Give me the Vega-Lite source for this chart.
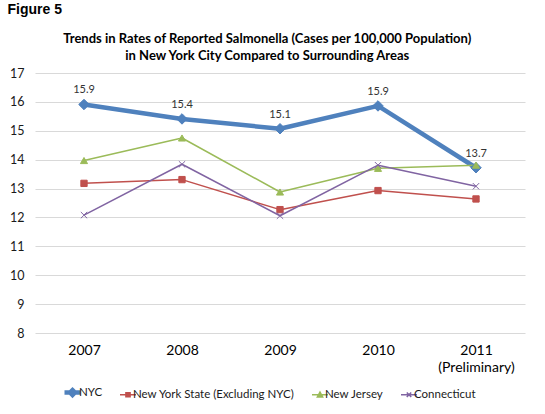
{
  "$schema": "https://vega.github.io/schema/vega-lite/v6.json",
  "background": "white",
  "padding": {"left": 7, "top": 3, "right": 8, "bottom": 6},
  "title": {"text": "Figure 5", "anchor": "start", "frame": "bounds", "font": "Liberation Sans", "fontSize": 14, "fontWeight": "bold", "color": "black", "dx": -2, "offset": 16},
  "data": {"values": [
    {"year": "2007", "area": "NYC", "rate": 15.91},
    {"year": "2008", "area": "NYC", "rate": 15.41},
    {"year": "2009", "area": "NYC", "rate": 15.07},
    {"year": "2010", "area": "NYC", "rate": 15.86},
    {"year": "2011 (Preliminary)", "area": "NYC", "rate": 13.72},
    {"year": "2007", "area": "New York State (Excluding NYC)", "rate": 13.18},
    {"year": "2008", "area": "New York State (Excluding NYC)", "rate": 13.31},
    {"year": "2009", "area": "New York State (Excluding NYC)", "rate": 12.27},
    {"year": "2010", "area": "New York State (Excluding NYC)", "rate": 12.93},
    {"year": "2011 (Preliminary)", "area": "New York State (Excluding NYC)", "rate": 12.64},
    {"year": "2007", "area": "New Jersey", "rate": 13.97},
    {"year": "2008", "area": "New Jersey", "rate": 14.75},
    {"year": "2009", "area": "New Jersey", "rate": 12.88},
    {"year": "2010", "area": "New Jersey", "rate": 13.70},
    {"year": "2011 (Preliminary)", "area": "New Jersey", "rate": 13.81},
    {"year": "2007", "area": "Connecticut", "rate": 12.08},
    {"year": "2008", "area": "Connecticut", "rate": 13.84},
    {"year": "2009", "area": "Connecticut", "rate": 12.06},
    {"year": "2010", "area": "Connecticut", "rate": 13.81},
    {"year": "2011 (Preliminary)", "area": "Connecticut", "rate": 13.08}
  ]},
  "vconcat": [
    {
      "width": 490,
      "height": 260,
      "title": {
        "text": ["Trends in Rates of Reported Salmonella (Cases per 100,000 Population)", "in New York City Compared to Surrounding Areas"],
        "anchor": "middle", "frame": "bounds", "font": "Lato", "fontSize": 13, "fontWeight": "bold", "color": "black", "lineHeight": 17, "offset": 4
      },
      "encoding": {
        "x": {"field": "year", "type": "ordinal", "sort": null,
          "scale": {"type": "point", "padding": 0.5},
          "axis": {"title": null, "labelAngle": 0, "domain": false, "ticks": false, "grid": false, "labelFont": "Lato", "labelFontSize": 14, "labelColor": "black", "labelPadding": 10, "labelExpr": "split(datum.value, ' ')", "labelLineHeight": 17}},
        "y": {"field": "rate", "type": "quantitative",
          "scale": {"domain": [8, 17], "nice": false, "zero": false},
          "axis": {"title": null, "values": [8, 9, 10, 11, 12, 13, 14, 15, 16, 17], "domain": false, "ticks": false, "grid": true, "gridColor": "#d9d9d9", "gridWidth": 1, "labelFont": "Lato", "labelFontSize": 12.5, "labelColor": "#1a1a1a", "labelPadding": 11}}
      },
      "layer": [
        {
          "mark": {"type": "line", "strokeJoin": "round"},
          "encoding": {
            "color": {"field": "area", "type": "nominal",
              "scale": {"domain": ["NYC", "New York State (Excluding NYC)", "New Jersey", "Connecticut"], "range": ["#4f81bd", "#c0504d", "#9bbb59", "#8064a2"]},
              "legend": {
                "orient": "none", "legendX": 27, "legendY": 309, "direction": "horizontal", "title": null,
                "symbolSize": 256, "labelFont": "Lato", "labelFontSize": 11.5, "labelColor": "#1a1a1a", "labelOffset": -4, "columnPadding": 14, "labelLimit": 0,
                "encode": {"symbols": {"update": {
                  "shape": {"signal": "datum.value === 'NYC' ? 'M-1,0H1M0,-0.3L0.3,0L0,0.3L-0.3,0Z' : datum.value === 'New Jersey' ? 'M-1,0H1M0,-0.33L0.33,0.27H-0.33Z' : datum.value === 'Connecticut' ? 'M-1,0H1M-0.28,-0.28L0.28,0.28M-0.28,0.28L0.28,-0.28' : 'M-1,0H1M-0.26,-0.26H0.26V0.26H-0.26Z'"},
                  "strokeWidth": {"signal": "datum.value === 'NYC' ? 3.5 : 1.5"},
                  "fill": {"scale": "color", "field": "value"},
                  "stroke": {"scale": "color", "field": "value"},
                  "opacity": {"value": 1},
                  "fillOpacity": {"value": 1},
                  "strokeOpacity": {"value": 1}
                }}}
              }},
            "strokeWidth": {"field": "area", "type": "nominal",
              "scale": {"type": "ordinal", "domain": ["NYC", "New York State (Excluding NYC)", "New Jersey", "Connecticut"], "range": [4.5, 1.5, 1.5, 1.5]},
              "legend": null}
          }
        },
        {
          "transform": [{"filter": "datum.area === 'NYC'"}],
          "mark": {"type": "point", "shape": "diamond", "filled": true, "color": "#4f81bd", "stroke": "#4f81bd", "strokeWidth": 1, "opacity": 1, "size": 110}
        },
        {
          "transform": [{"filter": "datum.area === 'New York State (Excluding NYC)'"}],
          "mark": {"type": "point", "shape": "square", "filled": true, "color": "#c0504d", "stroke": "#c0504d", "strokeWidth": 1, "opacity": 1, "size": 40}
        },
        {
          "transform": [{"filter": "datum.area === 'New Jersey'"}],
          "mark": {"type": "point", "shape": "triangle-up", "filled": true, "color": "#9bbb59", "stroke": "#9bbb59", "strokeWidth": 1, "opacity": 1, "size": 50}
        },
        {
          "transform": [{"filter": "datum.area === 'Connecticut'"}],
          "mark": {"type": "point", "shape": "M-1,-1L1,1M-1,1L1,-1", "filled": false, "color": "#8064a2", "stroke": "#8064a2", "strokeWidth": 1, "opacity": 1, "size": 40}
        },
        {
          "transform": [{"filter": "datum.area === 'NYC'"}],
          "mark": {"type": "text", "baseline": "bottom", "dy": -9, "font": "Lato", "fontSize": 11, "color": "#333333"},
          "encoding": {
            "text": {"field": "rate", "type": "quantitative", "format": ".1f"}
          }
        }
      ]
    }
  ],
  "config": {
    "view": {"stroke": null},
    "concat": {"spacing": 0}
  }
}
